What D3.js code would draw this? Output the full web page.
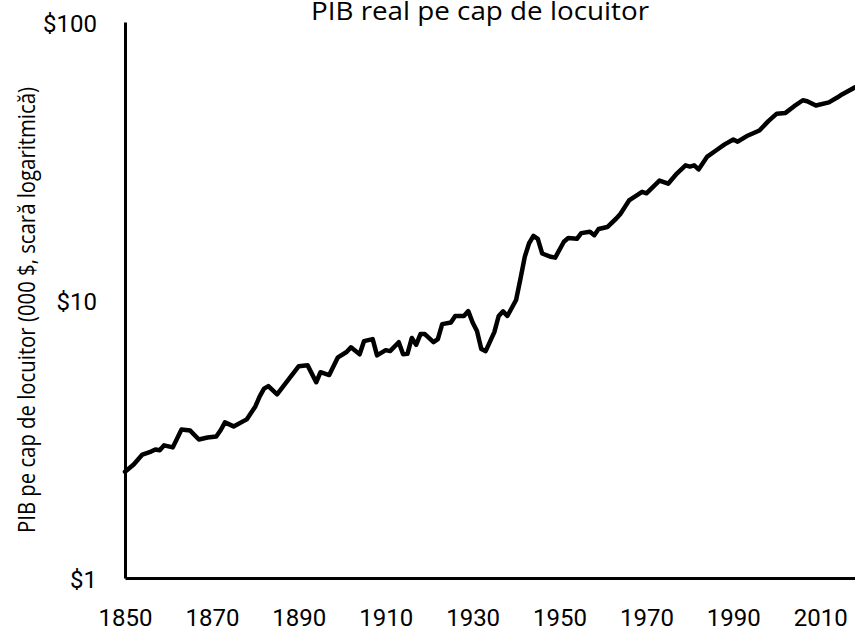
<!DOCTYPE html>
<html>
<head>
<meta charset="utf-8">
<script src="https://cdn.jsdelivr.net/npm/d3@7"></script>
<style>
  body { margin: 0; background: #fff; }
  svg { display: block; }
  .tick text { font-family: Roboto, sans-serif; font-size: 24px; fill: #000; }
</style>
</head>
<body>
<svg></svg>
<script>
const size = {w: 855, h: 631};
const margin = {t: 22, r: 0, b: 53, l: 125};

// real GDP per capita (thousand $)
const years = [1850, 1852, 1854, 1856, 1857, 1858, 1859, 1861, 1863, 1865, 1867, 1869, 1871, 1872,
    1873, 1875, 1878, 1880, 1881, 1882, 1883, 1885, 1888, 1890, 1892, 1894, 1895, 1897, 1899,
    1901, 1902, 1904, 1905, 1907, 1908, 1910, 1911, 1913, 1914, 1915, 1916, 1917, 1918, 1919,
    1921, 1922, 1923, 1925, 1926, 1928, 1929, 1930, 1931, 1932, 1933, 1935, 1936, 1937, 1938,
    1940, 1941, 1942, 1943, 1944, 1945, 1946, 1948, 1949, 1951, 1952, 1954, 1955, 1957, 1958,
    1959, 1961, 1963, 1964, 1966, 1969, 1970, 1973, 1975, 1977, 1979, 1980, 1981, 1982, 1984,
    1986, 1988, 1990, 1991, 1993, 1996, 1998, 2000, 2002, 2004, 2006, 2007, 2009, 2012, 2014,
    2015, 2018];
const gdp = [2.41, 2.56, 2.78, 2.85, 2.9, 2.88, 3.0, 2.95, 3.42, 3.39, 3.15, 3.2, 3.23, 3.4,
    3.63, 3.51, 3.72, 4.14, 4.5, 4.8, 4.9, 4.58, 5.27, 5.78, 5.83, 5.06, 5.5, 5.37, 6.22,
    6.5, 6.76, 6.38, 7.11, 7.23, 6.32, 6.6, 6.55, 7.05, 6.38, 6.4, 7.3, 6.9, 7.54, 7.54,
    7.05, 7.23, 8.19, 8.3, 8.76, 8.76, 9.12, 8.3, 7.73, 6.66, 6.55, 7.66, 8.76, 9.1, 8.76,
    10.0, 11.9, 14.3, 16.0, 17.0, 16.6, 14.7, 14.3, 14.2, 16.2, 16.7, 16.6, 17.4, 17.6, 17.1,
    18.0, 18.3, 19.6, 20.4, 22.8, 24.5, 24.2, 26.9, 26.2, 28.5, 30.5, 30.2, 30.5, 29.5, 32.8,
    34.5, 36.3, 37.8, 37.1, 38.8, 40.7, 43.9, 46.8, 47.1, 49.8, 52.3, 51.9, 50.1, 51.4, 53.6,
    54.9, 58.2];
const xTicks = [1850, 1870, 1890, 1910, 1930, 1950, 1970, 1990, 2010];
const yTicks = [1, 10, 100];
const yTickLabels = ['$1', '$10', '$100'];

const title = 'PIB real pe cap de locuitor';
const yTitle = 'PIB pe cap de locuitor (000 $, scară logaritmică)';

const svg = d3.select('svg')
    .attr('width', size.w)
    .attr('height', size.h);

const x = d3.scaleLinear()
    .domain([1850, 2018])
    .range([margin.l, size.w - margin.r]);

const y = d3.scaleLog()
    .domain([1, 100])
    .range([size.h - margin.b, margin.t]);

// x axis
const xAxis = svg.append('g')
    .attr('transform', `translate(0,${size.h - margin.b})`)
    .call(d3.axisBottom(x).tickValues(xTicks).tickFormat(d3.format('d')).tickSize(0).tickPadding(31));
xAxis.select('.domain').attr('stroke', '#000').attr('stroke-width', 3);

// y axis
const yAxis = svg.append('g')
    .attr('transform', `translate(${margin.l},0)`)
    .call(d3.axisLeft(y).tickValues(yTicks).tickFormat((d, i) => yTickLabels[i]).tickSize(0).tickPadding(28));
yAxis.select('.domain').attr('stroke', '#000').attr('stroke-width', 3);
yAxis.selectAll('.tick text').attr('dy', '0.4em');

// the line
const line = d3.line()
    .x((d, i) => x(years[i]))
    .y(d => y(d))
    .curve(d3.curveLinear);

svg.append('path')
    .datum(gdp)
    .attr('fill', 'none')
    .attr('stroke', '#000')
    .attr('stroke-width', 4.5)
    .attr('stroke-linejoin', 'round')
    .attr('stroke-linecap', 'round')
    .attr('d', line);

// titles
svg.append('text')
    .attr('x', 311)
    .attr('y', 20)
    .attr('textLength', 338)
    .attr('lengthAdjust', 'spacingAndGlyphs')
    .style('font-family', '"Open Sans", sans-serif')
    .style('font-size', '25px')
    .attr('fill', '#000')
    .text(title);

svg.append('text')
    .attr('transform', 'translate(35,310) rotate(-90)')
    .attr('text-anchor', 'middle')
    .attr('textLength', 446)
    .attr('lengthAdjust', 'spacingAndGlyphs')
    .style('font-family', '"Open Sans", sans-serif')
    .style('font-size', '23px')
    .attr('fill', '#000')
    .text(yTitle);
</script>
</body>
</html>
